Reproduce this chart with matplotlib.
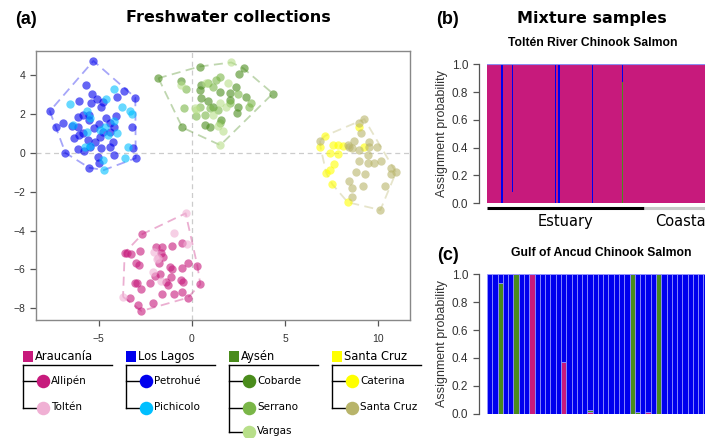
import numpy as np
import matplotlib
matplotlib.use("Agg")
import matplotlib.pyplot as plt

# ---- freshwater collections: scores on the first two axes ----
allipen_x = [-2.66, -3.61, -3.46, -3.29, -2.80, -2.98, -2.84, -3.07, -2.93, -2.71, -2.27, -1.95, -1.59,
             -1.64, -1.55, -1.77, -1.05, -0.54, -2.00, -1.73, -1.20, -1.07, -0.52, -0.21, 0.29, -1.11,
             -0.57, -0.48, -1.38, -1.29, 0.45, -1.59, -0.98, -0.52, -0.23, -3.34, -2.89, -2.71, -2.09]
allipen_y = [-4.18, -5.14, -5.17, -5.21, -5.03, -5.65, -5.77, -6.72, -6.68, -7.01, -6.68, -4.83, -4.86,
             -5.17, -5.34, -5.69, -4.79, -4.62, -6.34, -6.24, -5.86, -6.00, -5.95, -5.65, -5.81, -6.39,
             -6.55, -6.63, -6.63, -6.80, -6.77, -7.29, -7.29, -7.15, -7.46, -7.46, -7.84, -8.14, -7.71]
tolten_x = [-0.34, -0.98, -0.25, -2.05, -1.82, -2.09, -1.68, -3.70, -1.88]
tolten_y = [-3.11, -4.14, -4.71, -5.12, -5.43, -6.12, -6.60, -7.41, -5.48]

petrohue_x = [-5.29, -7.63, -5.71, -5.39, -3.66, -3.04, -6.04, -5.07, -4.75, -4.02, -5.43, -7.27, -6.91,
              -6.14, -5.84, -5.54, -6.09, -6.45, -6.34, -6.05, -5.57, -5.25, -5.00, -4.95, -4.59, -4.41,
              -4.09, -4.20, -4.41, -4.23, -4.41, -3.21, -3.16, -3.02, -4.16, -5.02, -4.98, -5.52, -6.79,
              -6.14, -5.48, -5.79, -4.86, -5.50, -4.86, -5.84, -5.21, -4.77]
petrohue_y = [4.74, 2.15, 3.49, 3.02, 3.21, 2.85, 2.70, 2.80, 2.61, 2.89, 2.58, 1.34, 1.56,
              1.87, 1.96, 1.96, 1.36, 1.39, 0.76, 0.93, 0.67, 1.27, 1.49, 0.84, 1.79, 1.56,
              1.91, 1.36, 1.10, 0.58, 0.33, 1.31, 0.24, -0.27, -0.12, -0.19, -0.53, -0.76, 0.00,
              0.21, 0.33, 0.12, 0.27, 1.70, 2.39, 1.01, 0.58, 1.10]
pichicolo_x = [-6.52, -4.18, -4.59, -3.73, -3.34, -3.21, -6.36, -5.63, -5.45, -4.18, -4.66, -4.50, -5.66,
               -3.41, -3.59, -4.77, -4.73, -5.75, -5.45, -4.05, -4.95]
pichicolo_y = [2.54, 3.28, 2.77, 2.37, 2.16, 1.98, 1.44, 2.16, 1.82, 1.67, 1.31, 0.93, 1.10,
               0.29, -0.26, -0.36, -0.88, 0.33, 0.36, 1.01, 1.19]

cobarde_x = [-1.80, 0.41, 2.77, 2.55, 4.34, -0.52, 0.50, 0.41, 1.48, 2.38, 2.02, 2.91, 0.50, 0.86,
             1.13, 2.46, 2.41, 0.68, 0.98, 1.57, -0.57, 2.02]
cobarde_y = [3.85, 4.45, 4.35, 4.07, 3.06, 1.31, 3.51, 3.25, 3.16, 3.42, 3.08, 2.87, 2.82, 2.65,
             2.39, 2.39, 2.04, 1.44, 1.36, 1.70, 3.68, 2.73]
serrano_x = [-0.30, -0.43, 1.52, 1.30, 0.86, 1.13, 2.46, 3.18, 3.05, 2.02, 0.95, 0.23, 0.68, 1.48,
             1.39, 0.41]
serrano_y = [3.28, 2.30, 3.93, 3.76, 3.59, 3.42, 3.02, 2.56, 2.39, 2.56, 2.30, 1.91, 1.96, 1.53,
             2.22, 2.39]
vargas_x = [2.11, 1.52, 1.93, 1.48, 0.23, 1.13, 1.39, 1.66, 0.14, -0.57, 0.77, 1.84]
vargas_y = [4.66, 0.40, 3.59, 2.56, 2.22, 1.96, 1.39, 1.15, 2.34, 3.51, 3.59, 2.39]

caterina_x = [6.89, 7.14, 7.55, 7.43, 7.86, 7.86, 8.09, 7.64, 7.43, 7.20, 7.52, 8.36, 8.98, 9.25]
caterina_y = [0.33, 0.88, 0.41, 0.02, 0.41, -0.07, 0.36, -0.58, -0.88, -1.01, -1.60, -2.54, 1.31, 0.33]
santacruz_x = [6.88, 8.98, 9.25, 9.07, 8.68, 8.36, 8.59, 8.98, 9.48, 9.93, 9.43, 8.95, 9.43, 9.79,
               10.14, 10.68, 10.95, 10.68, 8.82, 9.27, 8.45, 8.57, 9.16, 10.38, 8.59, 10.11, 8.43, 9.52]
santacruz_y = [0.64, 1.56, 1.74, 1.01, 0.64, 0.41, 0.24, 0.15, 0.58, 0.33, -0.10, -0.40, -0.53, -0.50,
               -0.41, -0.76, -1.00, -1.10, -0.96, -1.08, -1.43, -1.79, -1.68, -1.68, -2.29, -2.94, 0.33, 0.33]

region_names = ["Araucanía", "Los Lagos", "Aysén", "Santa Cruz"]
region_cols = ["#c71a7c", "#0000ee", "#4a8c1c", "#ffff00"]
pop_names = [["Allipén", "Toltén"], ["Petrohué", "Pichicolo"],
             ["Cobarde", "Serrano", "Vargas"], ["Caterina", "Santa Cruz"]]
pop_cols = [["#c71a7c", "#f0b0d4"], ["#0000ee", "#00bfff"],
            ["#4a8c1c", "#7ab648", "#b8df8a"], ["#ffff00", "#b8b46a"]]
pop_x = [[allipen_x, tolten_x], [petrohue_x, pichicolo_x],
         [cobarde_x, serrano_x, vargas_x], [caterina_x, santacruz_x]]
pop_y = [[allipen_y, tolten_y], [petrohue_y, pichicolo_y],
         [cobarde_y, serrano_y, vargas_y], [caterina_y, santacruz_y]]

# ---- mixture samples: assignment probabilities ----
# Toltén River: everything assigns to Araucanía except these fish
tolten_n = 180
tolten_estuary_n = 121
tolten_idx = [11, 19, 52, 55, 81, 104]
tolten_arau = [0.0, 0.08, 0.0, 0.0, 0.0, 0.0]
tolten_aysen = [0.0, 0.0, 0.0, 0.0, 0.0, 0.87]
tolten_lagos = [1.0, 0.92, 1.0, 1.0, 1.0, 0.13]

# Gulf of Ancud: everything assigns to Los Lagos except these fish
ancud_n = 44
ancud_idx = [2, 5, 8, 14, 19, 27, 28, 30, 32]
ancud_arau = [0.0, 0.0, 1.0, 0.37, 0.015, 0.0, 0.0, 0.01, 0.0]
ancud_aysen = [0.94, 1.0, 0.0, 0.0, 0.015, 1.0, 0.015, 0.0, 1.0]


def hull(xs, ys):
    # monotone chain convex hull
    pts = sorted(set(zip(xs, ys)))
    def cross(o, a, b):
        return (a[0]-o[0])*(b[1]-o[1]) - (a[1]-o[1])*(b[0]-o[0])
    lower, upper = [], []
    for p in pts:
        while len(lower) >= 2 and cross(lower[-2], lower[-1], p) <= 0:
            lower.pop()
        lower.append(p)
    for p in reversed(pts):
        while len(upper) >= 2 and cross(upper[-2], upper[-1], p) <= 0:
            upper.pop()
        upper.append(p)
    h = lower[:-1] + upper[:-1]
    h.append(h[0])
    return [p[0] for p in h], [p[1] for p in h]


W, H = 705, 438
fig = plt.figure(figsize=(W/100, H/100), dpi=100)

def box(l, t, r, b):
    return [l/W, 1-b/H, (r-l)/W, (b-t)/H]

# overlay in pixel units for titles and the population tree
ov = fig.add_axes([0, 0, 1, 1])
ov.set_xlim(0, W)
ov.set_ylim(H, 0)
ov.axis("off")

tick_font = "Liberation Sans"

# ---------------- (a) ----------------
ax = fig.add_axes(box(36, 51, 410, 320.3))
ax.axhline(0, color="#cccccc", lw=0.9, ls=(0, (4, 3)), zorder=0)
ax.axvline(0, color="#cccccc", lw=0.9, ls=(0, (4, 3)), zorder=0)
for r in range(4):
    allx = sum(pop_x[r], [])
    ally = sum(pop_y[r], [])
    hx, hy = hull(allx, ally)
    ax.plot(hx, hy, color=region_cols[r] if r != 3 else "#b8b46a", alpha=0.35,
            lw=1.3, ls=(0, (5, 3)), zorder=1)
    for k in range(len(pop_names[r])):
        ax.scatter(pop_x[r][k], pop_y[r][k], s=36, color=pop_cols[r][k],
                   alpha=0.6, linewidths=0, zorder=2)
ax.set_xlim(-8.37, 11.70)
ax.set_ylim(-8.62, 5.25)
ax.set_xticks([-5, 0, 5, 10])
ax.set_yticks([-8, -6, -4, -2, 0, 2, 4])
for s in ax.spines.values():
    s.set_color("#888888")
    s.set_linewidth(1.0)
ax.tick_params(colors="#555555", labelcolor="#333333", length=4, width=0.9, labelsize=7.5)
ax.tick_params(axis="x", pad=6)
for lab in ax.get_xticklabels() + ax.get_yticklabels():
    lab.set_family(tick_font)

ov.text(26, 19, "(a)", fontsize=13, fontweight="bold", family=tick_font, ha="center", va="center")
ov.text(228.5, 17, "Freshwater collections", fontsize=11.5, fontweight="bold",
        ha="center", va="center")

# population tree under (a)
col_x = [22.5, 125.5, 228.5, 331.5]
row_y = [381, 407.5, 431.5]
for r in range(4):
    x0 = col_x[r]
    ov.add_patch(plt.Rectangle((x0, 350.5), 10.5, 11, color=region_cols[r], lw=0))
    ov.text(x0 + 12.5, 356.5, region_names[r], fontsize=8.3, va="center", ha="left")
    ov.plot([x0, x0 + 89], [365, 365], color="black", lw=1.0)
    n = len(pop_names[r])
    ov.plot([x0 + 0.5, x0 + 0.5], [365, row_y[n-1]], color="black", lw=1.0)
    for k in range(n):
        ov.plot([x0 + 0.5, x0 + 14], [row_y[k], row_y[k]], color="black", lw=1.0)
        ov.scatter([x0 + 20], [row_y[k]], s=95, color=pop_cols[r][k], linewidths=0, zorder=3)
        ov.text(x0 + 28.5, row_y[k], pop_names[r][k], fontsize=7.5, va="center", ha="left")

# ---------------- (b) ----------------
arau = np.ones(tolten_n)
aysen = np.zeros(tolten_n)
lagos = np.zeros(tolten_n)
arau[tolten_idx] = tolten_arau
aysen[tolten_idx] = tolten_aysen
lagos[tolten_idx] = tolten_lagos
xb = np.arange(tolten_n)

axb = fig.add_axes(box(487.1, 64.3, 720.5, 203))
axb.bar(xb, arau, width=1.0, color=region_cols[0], lw=0, antialiased=False)
axb.bar(xb, aysen, width=1.0, bottom=arau, color=region_cols[2], lw=0, antialiased=False)
axb.bar(xb, lagos, width=1.0, bottom=arau + aysen, color=region_cols[1], lw=0, antialiased=False)
axb.axhline(1.0, color="#8c8cf0", lw=0.8)
axb.set_xlim(-0.5, tolten_n - 0.5)
axb.set_ylim(0, 1)
axb.plot([-0.5, tolten_estuary_n - 0.5], [-0.038, -0.038], color="black", lw=2.2,
         clip_on=False, solid_capstyle="butt")
axb.plot([tolten_estuary_n - 0.5, tolten_n - 0.5], [-0.038, -0.038], color="#c8c8c8", lw=2.2,
         clip_on=False, solid_capstyle="butt")
axb.text((tolten_estuary_n - 1) / 2, -0.13, "Estuary", fontsize=10.5, ha="center", va="center")
axb.text((tolten_estuary_n + tolten_n - 1) / 2, -0.13, "Coastal", fontsize=10.5,
         ha="center", va="center", clip_on=False)

# ---------------- (c) ----------------
c_arau = np.zeros(ancud_n)
c_aysen = np.zeros(ancud_n)
c_arau[ancud_idx] = ancud_arau
c_aysen[ancud_idx] = ancud_aysen
c_lagos = 1.0 - c_arau - c_aysen
xc = np.arange(ancud_n)

axc = fig.add_axes(box(487.1, 274.3, 487.1 + ancud_n * 5.277, 413.7))
edge = "#9c9cff"
axc.bar(xc, c_arau, width=1.0, color=region_cols[0], edgecolor=edge, lw=0.5)
axc.bar(xc, c_aysen, width=1.0, bottom=c_arau, color=region_cols[2], edgecolor=edge, lw=0.5)
axc.bar(xc, c_lagos, width=1.0, bottom=c_arau + c_aysen, color=region_cols[1], edgecolor=edge, lw=0.5)
axc.set_xlim(-0.5, ancud_n - 0.5)
axc.set_ylim(0, 1)

for a in (axb, axc):
    for side in ("top", "right", "bottom"):
        a.spines[side].set_visible(False)
    a.spines["left"].set_position(("outward", 6))
    a.spines["left"].set_bounds(0, 1)
    a.spines["left"].set_color("#555555")
    a.spines["left"].set_linewidth(0.9)
    a.set_xticks([])
    a.set_yticks([0, 0.2, 0.4, 0.6, 0.8, 1.0])
    a.set_yticklabels(["0.0", "0.2", "0.4", "0.6", "0.8", "1.0"])
    a.tick_params(axis="y", colors="#555555", labelcolor="#333333", length=4, width=0.9,
                  labelsize=8.5)
    for lab in a.get_yticklabels():
        lab.set_family(tick_font)
    a.set_ylabel("Assignment probability", fontsize=9, family=tick_font, color="#333333",
                 labelpad=3)

ov.text(447.5, 20, "(b)", fontsize=13, fontweight="bold", family=tick_font, ha="center", va="center")
ov.text(592, 18, "Mixture samples", fontsize=11.5, fontweight="bold", ha="center", va="center")
ov.text(592.7, 43, "Toltén River Chinook Salmon", fontsize=8.7, fontweight="bold",
        family=tick_font, ha="center", va="center")
ov.text(448, 255, "(c)", fontsize=13, fontweight="bold", family=tick_font, ha="center", va="center")
ov.text(600.8, 253, "Gulf of Ancud Chinook Salmon", fontsize=8.7, fontweight="bold",
        family=tick_font, ha="center", va="center")

fig.savefig("out.png", dpi=100)
